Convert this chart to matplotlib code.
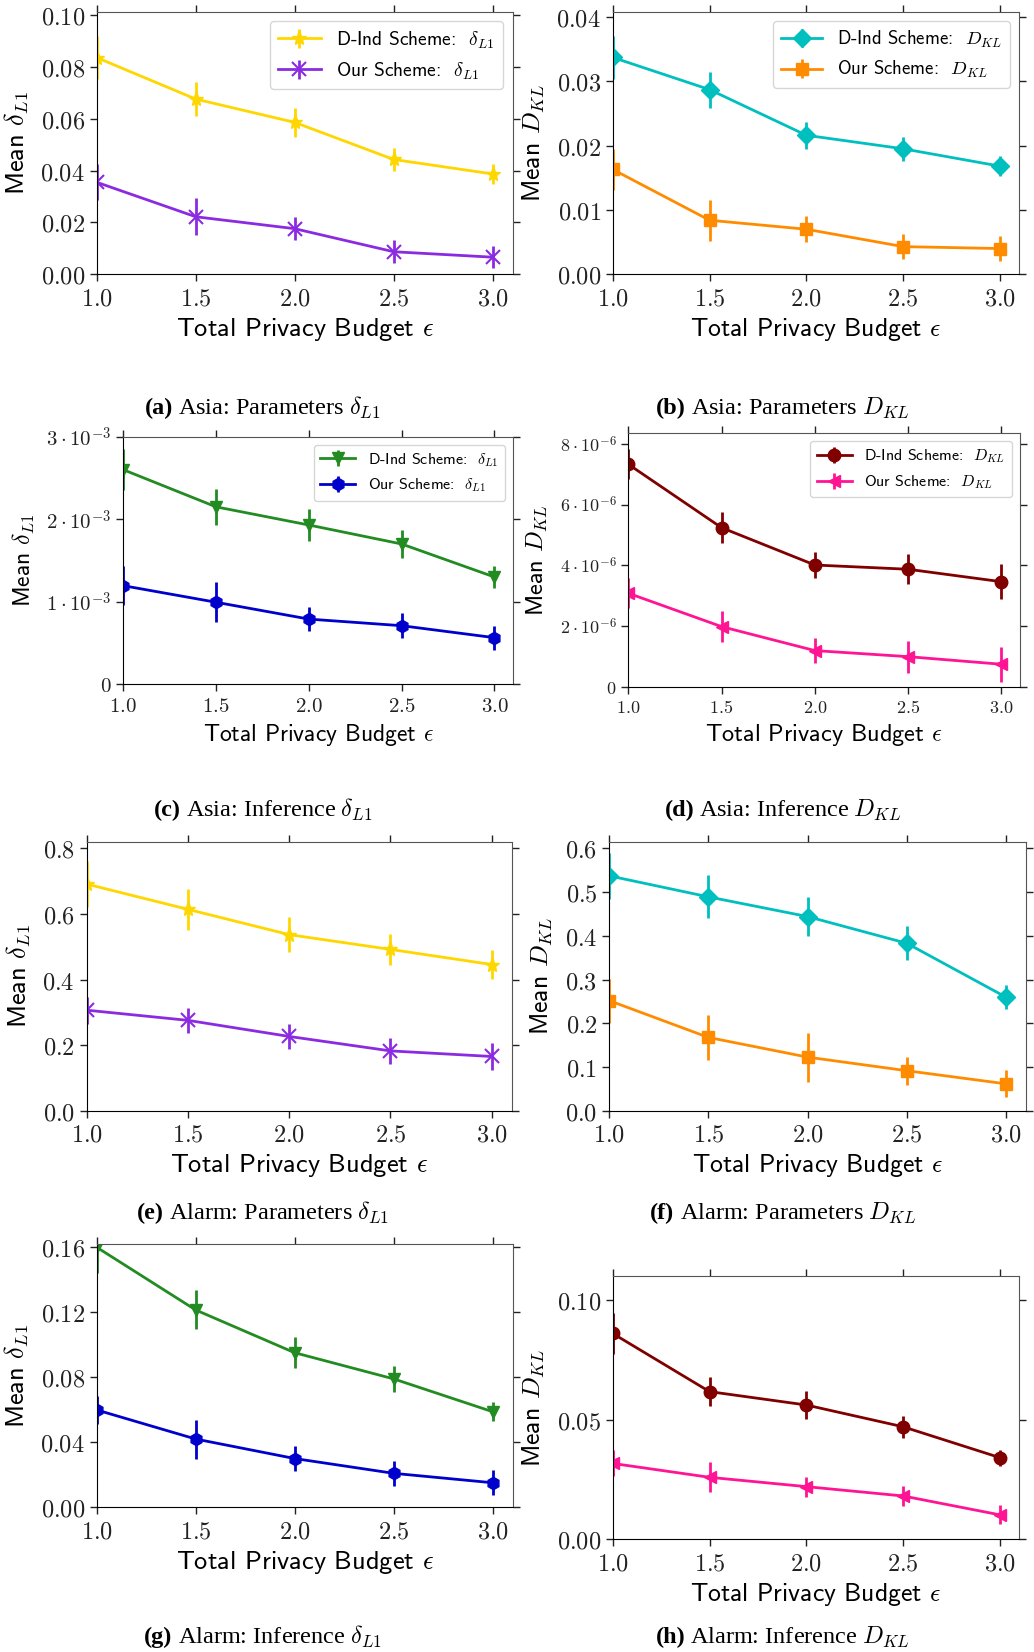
import matplotlib
matplotlib.use("Agg")
import matplotlib.pyplot as plt
from matplotlib.ticker import FixedLocator, FixedFormatter
from matplotlib.font_manager import FontProperties

plt.rcParams['mathtext.fontset'] = 'cm'
plt.rcParams['axes.unicode_minus'] = False

# ---------------- data ----------------
eps = [1.0, 1.5, 2.0, 2.5, 3.0]
x_ticks = [1.0, 1.5, 2.0, 2.5, 3.0]
x_ticklabels = ['$1.0$', '$1.5$', '$2.0$', '$2.5$', '$3.0$']

# (a) Asia: Parameters delta_L1
a_dind = [0.0836, 0.0676, 0.0586, 0.0443, 0.0387]
a_dind_err = [0.0084, 0.0064, 0.0057, 0.0043, 0.0037]
a_our = [0.0355, 0.0222, 0.0176, 0.0087, 0.0066]
a_our_err = [0.0069, 0.0071, 0.0045, 0.0045, 0.0042]
a_yticks = [0.0, 0.02, 0.04, 0.06, 0.08, 0.10]
a_ylabels = ['$0.00$', '$0.02$', '$0.04$', '$0.06$', '$0.08$', '$0.10$']

# (b) Asia: Parameters D_KL
b_dind = [0.0337, 0.0287, 0.0216, 0.0195, 0.0168]
b_dind_err = [0.0034, 0.0028, 0.0021, 0.0019, 0.0016]
b_our = [0.0163, 0.0084, 0.0070, 0.0043, 0.0040]
b_our_err = [0.0032, 0.0032, 0.0020, 0.0020, 0.0020]
b_yticks = [0.0, 0.01, 0.02, 0.03, 0.04]
b_ylabels = ['$0.00$', '$0.01$', '$0.02$', '$0.03$', '$0.04$']

# (c) Asia: Inference delta_L1
c_dind = [2.60e-3, 2.15e-3, 1.93e-3, 1.70e-3, 1.30e-3]
c_dind_err = [0.25e-3, 0.22e-3, 0.19e-3, 0.17e-3, 0.13e-3]
c_our = [1.195e-3, 0.994e-3, 0.79e-3, 0.71e-3, 0.565e-3]
c_our_err = [0.24e-3, 0.24e-3, 0.15e-3, 0.15e-3, 0.145e-3]
c_yticks = [0.0, 1e-3, 2e-3, 3e-3]
c_ylabels = ['$0$', r'$1\cdot10^{-3}$', r'$2\cdot10^{-3}$', r'$3\cdot10^{-3}$']

# (d) Asia: Inference D_KL
d_dind = [7.33e-6, 5.24e-6, 4.01e-6, 3.87e-6, 3.46e-6]
d_dind_err = [0.50e-6, 0.51e-6, 0.42e-6, 0.50e-6, 0.57e-6]
d_our = [3.08e-6, 1.98e-6, 1.19e-6, 0.99e-6, 0.74e-6]
d_our_err = [0.50e-6, 0.52e-6, 0.41e-6, 0.53e-6, 0.57e-6]
d_yticks = [0.0, 2e-6, 4e-6, 6e-6, 8e-6]
d_ylabels = ['$0$', r'$2\cdot10^{-6}$', r'$4\cdot10^{-6}$', r'$6\cdot10^{-6}$', r'$8\cdot10^{-6}$']

# (e) Alarm: Parameters delta_L1
e_dind = [0.691, 0.614, 0.537, 0.492, 0.446]
e_dind_err = [0.070, 0.062, 0.054, 0.048, 0.044]
e_our = [0.307, 0.276, 0.227, 0.183, 0.166]
e_our_err = [0.041, 0.038, 0.039, 0.040, 0.040]
e_yticks = [0.0, 0.2, 0.4, 0.6, 0.8]
e_ylabels = ['$0.0$', '$0.2$', '$0.4$', '$0.6$', '$0.8$']

# (f) Alarm: Parameters D_KL
f_dind = [0.537, 0.489, 0.444, 0.383, 0.260]
f_dind_err = [0.053, 0.049, 0.045, 0.039, 0.027]
f_our = [0.252, 0.168, 0.123, 0.092, 0.062]
f_our_err = [0.050, 0.051, 0.056, 0.032, 0.031]
f_yticks = [0.0, 0.1, 0.2, 0.3, 0.4, 0.5, 0.6]
f_ylabels = ['$0.0$', '$0.1$', '$0.2$', '$0.3$', '$0.4$', '$0.5$', '$0.6$']

# (g) Alarm: Inference delta_L1
g_dind = [0.160, 0.1214, 0.0951, 0.079, 0.0588]
g_dind_err = [0.016, 0.012, 0.0094, 0.0082, 0.006]
g_our = [0.0599, 0.042, 0.030, 0.0209, 0.0151]
g_our_err = [0.0087, 0.012, 0.0076, 0.0077, 0.0076]
g_yticks = [0.0, 0.04, 0.08, 0.12, 0.16]
g_ylabels = ['$0.00$', '$0.04$', '$0.08$', '$0.12$', '$0.16$']

# (h) Alarm: Inference D_KL
h_dind = [0.0860, 0.0617, 0.0561, 0.0470, 0.0341]
h_dind_err = [0.0084, 0.0062, 0.0057, 0.0047, 0.0033]
h_our = [0.0317, 0.0259, 0.0220, 0.0181, 0.0102]
h_our_err = [0.0054, 0.0063, 0.0042, 0.0040, 0.0040]
h_yticks = [0.0, 0.05, 0.10]
h_ylabels = ['$0.00$', '$0.05$', '$0.10$']

legend_dind_l1 = r'D-Ind Scheme:  $\delta_{L1}$'
legend_our_l1 = r'Our Scheme:  $\delta_{L1}$'
legend_dind_kl = r'D-Ind Scheme:  $D_{KL}$'
legend_our_kl = r'Our Scheme:  $D_{KL}$'

ylabel_l1 = r'Mean $\delta_{L1}$'
ylabel_kl = r'Mean $D_{KL}$'
xlabel = r'Total Privacy Budget $\epsilon$'

captions = [
    ('(a)', r'Asia: Parameters $\delta_{L1}$'),
    ('(b)', r'Asia: Parameters $D_{KL}$'),
    ('(c)', r'Asia: Inference $\delta_{L1}$'),
    ('(d)', r'Asia: Inference $D_{KL}$'),
    ('(e)', r'Alarm: Parameters $\delta_{L1}$'),
    ('(f)', r'Alarm: Parameters $D_{KL}$'),
    ('(g)', r'Alarm: Inference $\delta_{L1}$'),
    ('(h)', r'Alarm: Inference $D_{KL}$'),
]

# ---------------- layout ----------------
W, H = 1034, 1652
fig = plt.figure(figsize=(W / 100, H / 100), dpi=100)


def rect(l, r, t, b):
    return [l / W, 1 - b / H, (r - l) / W, (b - t) / H]


SANS = 'cmss10'

panels = [
    dict(r=rect(96.7, 512.5, 11.7, 274.3), d=a_dind, de=a_dind_err, o=a_our, oe=a_our_err,
         st='A', ylim=0.1013, yt=a_yticks, yl=a_ylabels, lab=ylabel_l1, leg=(legend_dind_l1, legend_our_l1),
         tfs=17.5, lfs=19, gfs=14),
    dict(r=rect(612.7, 1019.4, 11.7, 274.3), d=b_dind, de=b_dind_err, o=b_our, oe=b_our_err,
         st='B', ylim=0.0408, yt=b_yticks, yl=b_ylabels, lab=ylabel_kl, leg=(legend_dind_kl, legend_our_kl),
         tfs=17.5, lfs=18.5, gfs=13.5),
    dict(r=rect(123.3, 513, 436.7, 684.3), d=c_dind, de=c_dind_err, o=c_our, oe=c_our_err,
         st='C', ylim=0.003, yt=c_yticks, yl=c_ylabels, lab=ylabel_l1, leg=(legend_dind_l1, legend_our_l1),
         tfs=15, lfs=17, gfs=11.5),
    dict(r=rect(628.3, 1020, 433.3, 686.7), d=d_dind, de=d_dind_err, o=d_our, oe=d_our_err,
         st='D', ylim=8.35e-6, yt=d_yticks, yl=d_ylabels, lab=ylabel_kl, leg=(legend_dind_kl, legend_our_kl),
         tfs=13, lfs=17.5, gfs=11.5),
    dict(r=rect(86.7, 512, 841.7, 1111), d=e_dind, de=e_dind_err, o=e_our, oe=e_our_err,
         st='A', ylim=0.82, yt=e_yticks, yl=e_ylabels, lab=ylabel_l1, leg=None,
         tfs=17.5, lfs=19, gfs=14),
    dict(r=rect(609.3, 1025.8, 841.7, 1111), d=f_dind, de=f_dind_err, o=f_our, oe=f_our_err,
         st='B', ylim=0.615, yt=f_yticks, yl=f_ylabels, lab=ylabel_kl, leg=None,
         tfs=17.5, lfs=18.5, gfs=14),
    dict(r=rect(96.7, 512.5, 1244, 1507.3), d=g_dind, de=g_dind_err, o=g_our, oe=g_our_err,
         st='C', ylim=0.162, yt=g_yticks, yl=g_ylabels, lab=ylabel_l1, leg=None,
         tfs=17.5, lfs=19, gfs=14),
    dict(r=rect(612.7, 1019.4, 1276, 1539.3), d=h_dind, de=h_dind_err, o=h_our, oe=h_our_err,
         st='D', ylim=0.11, yt=h_yticks, yl=h_ylabels, lab=ylabel_kl, leg=None,
         tfs=17.5, lfs=18.5, gfs=14),
]

styles = {
    'A': (dict(color='#FFD700', marker='*', ms=11), dict(color='#8A2BE2', marker='x', ms=10, mew=1.5)),
    'B': (dict(color='#00BFBF', marker='D', ms=9), dict(color='#FF8C00', marker='s', ms=9)),
    'C': (dict(color='#228B22', marker='v', ms=9), dict(color='#0000CD', marker='h', ms=9)),
    'D': (dict(color='#800000', marker='o', ms=9), dict(color='#FF1493', marker='<', ms=9)),
}

for p in panels:
    ax = fig.add_axes(p['r'])
    s1, s2 = styles[p['st']]
    ax.errorbar(eps, p['d'], yerr=p['de'], lw=2, elinewidth=2, capsize=0,
                label=p['leg'][0] if p['leg'] else None, **s1)
    ax.errorbar(eps, p['o'], yerr=p['oe'], lw=2, elinewidth=2, capsize=0,
                label=p['leg'][1] if p['leg'] else None, **s2)
    ax.set_xlim(1.0, 3.1)
    ax.set_ylim(0, p['ylim'])
    ax.xaxis.set_major_locator(FixedLocator(x_ticks))
    ax.xaxis.set_major_formatter(FixedFormatter(x_ticklabels))
    ax.yaxis.set_major_locator(FixedLocator(p['yt']))
    ax.yaxis.set_major_formatter(FixedFormatter(p['yl']))
    ax.tick_params(axis='both', which='both', direction='out', top=True, right=True,
                   labelsize=p['tfs'], colors='#222222', length=5, width=1)
    for side in ('top', 'right'):
        ax.spines[side].set_color('#555555')
    for side in ('left', 'bottom'):
        ax.spines[side].set_color('#000000')
    ax.set_xlabel(xlabel, fontsize=p['lfs'], family=SANS, labelpad=4)
    ax.set_ylabel(p['lab'], fontsize=p['lfs'], family=SANS, labelpad=7)
    if p['leg']:
        ax.legend(loc='upper right', prop=FontProperties(family=SANS, size=p['gfs']),
                  handlelength=2.2, borderaxespad=0.5)

# captions
renderer = fig.canvas.get_renderer()
cap_centers = [(263, 408), (783, 408), (263, 810), (783, 810),
               (263, 1213), (783, 1213), (263, 1637), (783, 1637)]
for (bold, rest), (cx, cy) in zip(captions, cap_centers):
    t1 = fig.text(0, 1 - cy / H, bold, family='Liberation Serif', fontweight='bold',
                  fontsize=17.5, va='center')
    t2 = fig.text(0, 1 - cy / H, rest, family='Liberation Serif', fontsize=17.5, va='center')
    w1 = t1.get_window_extent(renderer).width
    w2 = t2.get_window_extent(renderer).width
    gap = 5
    left = cx - (w1 + gap + w2) / 2
    t1.set_x(left / W)
    t2.set_x((left + w1 + gap) / W)

fig.savefig('out.png', dpi=100)
